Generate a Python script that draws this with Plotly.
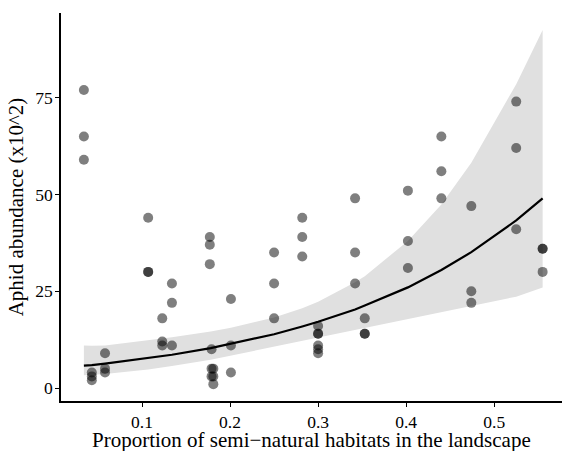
import plotly.graph_objects as go

# observed points
pt_x = [0.034, 0.034, 0.034,
        0.043, 0.043, 0.043,
        0.058, 0.058, 0.058,
        0.107, 0.107, 0.107,
        0.123, 0.123, 0.123,
        0.134, 0.134, 0.134,
        0.177, 0.177, 0.177,
        0.179, 0.179, 0.179,
        0.181, 0.181, 0.181,
        0.201, 0.201, 0.201,
        0.250, 0.250, 0.250,
        0.282, 0.282, 0.282,
        0.300, 0.300, 0.300,
        0.300, 0.300, 0.300,
        0.342, 0.342, 0.342,
        0.353, 0.353, 0.353,
        0.402, 0.402, 0.402,
        0.440, 0.440, 0.440,
        0.474, 0.474, 0.474,
        0.525, 0.525, 0.525,
        0.555, 0.555, 0.555]
pt_y = [77, 65, 59,
        4, 3, 2,
        9, 5, 4,
        44, 30, 30,
        18, 12, 11,
        27, 22, 11,
        39, 37, 32,
        10, 5, 3,
        5, 3, 1,
        23, 11, 4,
        35, 27, 18,
        44, 39, 34,
        16, 14, 10,
        14, 11, 9,
        49, 35, 27,
        18, 14, 14,
        51, 38, 31,
        65, 56, 49,
        47, 25, 22,
        74, 62, 41,
        36, 36, 30]

# fitted curve and confidence band at the site values
fit_x = [0.034, 0.043, 0.058, 0.107, 0.123, 0.134, 0.178, 0.201, 0.250,
         0.282, 0.300, 0.342, 0.353, 0.402, 0.440, 0.474, 0.525, 0.555]
fit_y = [5.8, 5.9, 6.3, 7.7, 8.2, 8.6, 10.3, 11.4, 13.9,
         15.9, 17.1, 20.3, 21.3, 26.0, 30.5, 35.1, 43.3, 49.0]
fit_lo = [3.3, 3.4, 3.6, 4.8, 5.3, 5.7, 7.3, 8.3, 10.6,
          12.2, 13.1, 15.1, 15.6, 17.9, 19.6, 21.2, 23.6, 26.0]
fit_hi = [11.0, 10.9, 11.0, 12.3, 12.7, 13.1, 14.6, 15.6, 18.2,
          20.6, 22.3, 27.3, 28.9, 38.0, 47.4, 58.2, 78.5, 92.5]

x_ticks = [0.1, 0.2, 0.3, 0.4, 0.5]
x_tick_labels = ["0.1", "0.2", "0.3", "0.4", "0.5"]
y_ticks = [0, 25, 50, 75]
y_tick_labels = ["0", "25", "50", "75"]

X_TITLE = "Proportion of semi\u2212natural habitats in the landscape"
Y_TITLE = "Aphid abundance (x10^2)"

FONT = "Liberation Serif, Times New Roman, serif"

fig = go.Figure()
fig.add_trace(go.Scatter(
    x=fit_x + fit_x[::-1], y=fit_hi + fit_lo[::-1],
    fill="toself", fillcolor="rgb(224,224,224)",
    line=dict(width=0), mode="lines", hoverinfo="skip", showlegend=False))
fig.add_trace(go.Scatter(
    x=pt_x, y=pt_y, mode="markers",
    marker=dict(size=10, color="rgba(0,0,0,0.5)", line=dict(width=0)),
    showlegend=False))
fig.add_trace(go.Scatter(
    x=fit_x, y=fit_y, mode="lines",
    line=dict(color="black", width=2.2), showlegend=False))

fig.update_layout(
    width=562, height=451,
    margin=dict(l=61, r=0, t=13, b=50),
    plot_bgcolor="white", paper_bgcolor="white",
    font=dict(family=FONT, color="black"),
)
fig.update_xaxes(
    range=[0.008, 0.577], tickvals=x_ticks, ticktext=x_tick_labels,
    showgrid=False, zeroline=False,
    showline=True, linecolor="black", linewidth=1.6,
    ticks="outside", ticklen=4, tickwidth=1.2, tickcolor="black",
    tickfont=dict(size=17.5, family=FONT, color="black"),
    ticklabelstandoff=0,
    automargin=False,
)
fig.update_yaxes(
    range=[-3.36, 96.9], tickvals=y_ticks, ticktext=y_tick_labels,
    showgrid=False, zeroline=False,
    showline=True, linecolor="black", linewidth=1.6,
    ticks="outside", ticklen=4, tickwidth=1.2, tickcolor="black",
    tickfont=dict(size=17.5, family=FONT, color="black"),
    ticklabelstandoff=-1,
    title=dict(text=Y_TITLE,
               font=dict(size=21, family=FONT, color="black"), standoff=6),
    automargin=False,
)
fig.add_annotation(
    text=X_TITLE, xref="paper", yref="paper", x=0.5, y=-(440 - 401) / 388,
    xanchor="center", yanchor="middle", showarrow=False,
    font=dict(size=21, family=FONT, color="black"))

fig.write_html("out.html", config={"displayModeBar": False},
               post_script="document.body.style.margin='0';document.body.style.padding='0';")
